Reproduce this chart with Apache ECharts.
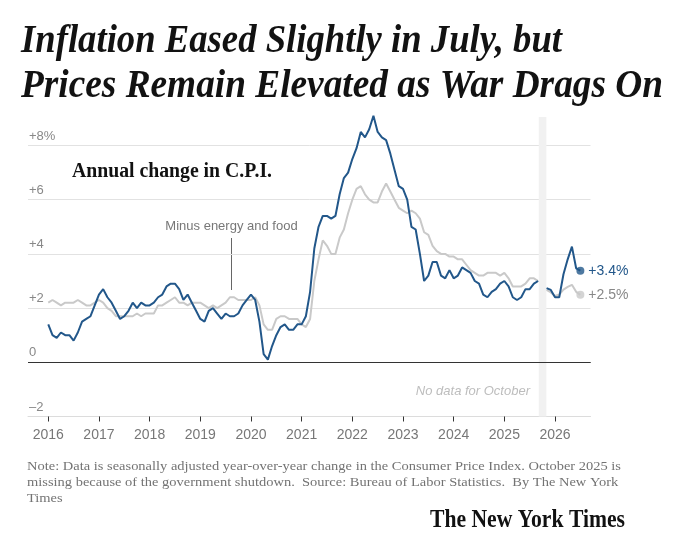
<!DOCTYPE html>
<html>
<head>
<meta charset="utf-8">
<script src="https://cdn.jsdelivr.net/npm/echarts@6/dist/echarts.min.js"></script>
<style>
html, body { margin: 0; padding: 0; background: #fff; }
#chart { width: 686px; height: 551px; }
</style>
</head>
<body>
<div id="chart"></div>
<script>
// ==========================
// data: year-over-year change in C.P.I., monthly from Jan 2016
// ==========================
var startYear = 2016;
var tickYears = [2016, 2017, 2018, 2019, 2020, 2021, 2022, 2023, 2024, 2025, 2026];
var yTicks = [-2, 0, 2, 4, 6, 8];
var yTickLabels = ['\u20132', '0', '+2', '+4', '+6', '+8%'];
var gapMonth = '2025-10';

var allItems = [
	1.4, 1.0, 0.9, 1.1, 1.0, 1.0, 0.8, 1.1, 1.5, 1.6, 1.7, 2.1,
	2.5, 2.7, 2.4, 2.2, 1.9, 1.6, 1.7, 1.9, 2.2, 2.0, 2.2, 2.1,
	2.1, 2.2, 2.4, 2.5, 2.8, 2.9, 2.9, 2.7, 2.3, 2.5, 2.2, 1.9,
	1.6, 1.5, 1.9, 2.0, 1.8, 1.6, 1.8, 1.7, 1.7, 1.8, 2.1, 2.3,
	2.5, 2.3, 1.5, 0.3, 0.1, 0.6, 1.0, 1.3, 1.4, 1.2, 1.2, 1.4,
	1.4, 1.7, 2.6, 4.2, 5.0, 5.4, 5.4, 5.3, 5.4, 6.2, 6.8, 7.0,
	7.5, 7.9, 8.5, 8.3, 8.6, 9.1, 8.5, 8.3, 8.2, 7.7, 7.1, 6.5,
	6.4, 6.0, 5.0, 4.9, 4.0, 3.0, 3.2, 3.7, 3.7, 3.2, 3.1, 3.4,
	3.1, 3.2, 3.5, 3.4, 3.3, 3.0, 2.9, 2.5, 2.4, 2.6, 2.7, 2.9,
	3.0, 2.8, 2.4, 2.3, 2.4, 2.7, 2.7, 2.9, 3.0, null, 2.74, 2.67,
	2.4, 2.4, 3.25, 3.8, 4.27, 3.47, 3.38
];

var coreItems = [
	2.2, 2.3, 2.2, 2.1, 2.2, 2.2, 2.2, 2.3, 2.2, 2.1, 2.1, 2.2,
	2.3, 2.2, 2.0, 1.9, 1.7, 1.7, 1.7, 1.7, 1.7, 1.8, 1.7, 1.8,
	1.8, 1.8, 2.1, 2.1, 2.2, 2.3, 2.4, 2.2, 2.2, 2.1, 2.2, 2.2,
	2.2, 2.1, 2.0, 2.1, 2.0, 2.1, 2.2, 2.4, 2.4, 2.3, 2.3, 2.3,
	2.3, 2.4, 2.1, 1.4, 1.2, 1.2, 1.6, 1.7, 1.7, 1.6, 1.6, 1.6,
	1.4, 1.3, 1.6, 3.0, 3.8, 4.5, 4.3, 4.0, 4.0, 4.6, 4.9, 5.5,
	6.0, 6.4, 6.5, 6.2, 6.0, 5.9, 5.9, 6.3, 6.6, 6.3, 6.0, 5.7,
	5.6, 5.5, 5.6, 5.5, 5.3, 4.8, 4.7, 4.3, 4.1, 4.0, 4.0, 3.9,
	3.9, 3.8, 3.8, 3.6, 3.4, 3.3, 3.2, 3.2, 3.3, 3.3, 3.3, 3.2,
	3.3, 3.1, 2.8, 2.8, 2.8, 2.9, 3.1, 3.1, 3.0, null, 2.67, 2.58,
	2.45, 2.5, 2.68, 2.78, 2.86, 2.6, 2.49
];

var monthLabels = allItems.map(function(v, i) {
	var m = i % 12 + 1;
	return (startYear + Math.floor(i / 12)) + '-' + (m < 10 ? '0' + m : m);
});
var gapIndex = monthLabels.indexOf(gapMonth);
var tickIndex = tickYears.map(function(y) { return (y - startYear) * 12; });

function toPairs(arr) {
	return arr.map(function(v, i) { return [i, v]; });
}
function lastPair(arr) {
	return [arr.length - 1, arr[arr.length - 1]];
}
function pct(v) {
	return '+' + v.toFixed(1) + '%';
}

// text fitting (titles and footer are condensed faces in the original)
var measureCtx = document.createElement('canvas').getContext('2d');
function fitScale(text, font, width) {
	measureCtx.font = font;
	return width / measureCtx.measureText(text).width;
}

var blue = '#22578a';
var grey = '#c9c9c9';
var sans = '"Liberation Sans", Arial, sans-serif';
var serif = '"Liberation Serif", serif';

var titleFont = 'italic bold 41px ' + serif;
var title1 = 'Inflation Eased Slightly in July, but';
var title2 = 'Prices Remain Elevated as War Drags On';
var titleScale1 = fitScale(title1, titleFont, 541);
var titleScale2 = fitScale(title2, titleFont, 642);

var subFont = 'bold 20px ' + serif;
var subText = 'Annual change in C.P.I.';
var subScale = fitScale(subText, subFont, 200);

var noteFont = '13px ' + serif;
var note1 = 'Note: Data is seasonally adjusted year-over-year change in the Consumer Price Index. October 2025 is';
var note2 = 'missing because of the government shutdown.  Source: Bureau of Labor Statistics.  By The New York';
var note3 = 'Times';
var noteScale = fitScale(note1, noteFont, 594);

var logoFont = 'bold 26px ' + serif;
var logoText = 'The New York Times';
var logoScale = fitScale(logoText, logoFont, 195);

var chart = echarts.init(document.getElementById('chart'));

var option = {
	animation : false,
	backgroundColor : '#ffffff',
	grid : {
		left : 28,
		right : 95.5,
		top : 91.3,
		bottom : 134.5
	},
	xAxis : {
		type : 'value',
		min : -4.8,
		max : 128.4,
		splitLine : { show : false },
		axisLine : {
			show : true,
			onZero : false,
			lineStyle : { color : '#dcdcdc', width : 1 }
		},
		axisTick : {
			show : true,
			customValues : tickIndex,
			length : 5,
			lineStyle : { color : '#333333', width : 1 }
		},
		axisLabel : {
			customValues : tickIndex,
			margin : 12,
			color : '#777777',
			fontSize : 14,
			fontFamily : sans,
			formatter : function(v) {
				return String(startYear + Math.round(v / 12));
			}
		}
	},
	yAxis : {
		type : 'value',
		min : -2,
		max : 10,
		interval : 2,
		axisLine : { show : false },
		axisTick : { show : false },
		axisLabel : {
			inside : true,
			margin : 1,
			verticalAlign : 'bottom',
			padding : [0, 0, 3, 0],
			color : '#888888',
			fontSize : 13,
			fontFamily : sans,
			formatter : function(v) {
				var k = yTicks.indexOf(v);
				return k < 0 ? '' : yTickLabels[k];
			}
		},
		splitLine : {
			show : true,
			showMaxLine : false,
			lineStyle : {
				color : ['#e2e2e2', '#333333', '#e2e2e2', '#e2e2e2', '#e2e2e2', '#e2e2e2', 'rgba(0,0,0,0)'],
				width : 1
			}
		}
	},
	series : [ {
		name : 'Minus energy and food',
		type : 'line',
		data : toPairs(coreItems),
		symbol : 'none',
		connectNulls : false,
		z : 2,
		lineStyle : { color : grey, width : 2 },
		emphasis : { disabled : true },
		endLabel : {
			show : true,
			distance : 8,
			color : '#888888',
			fontSize : 14,
			fontFamily : sans,
			formatter : function(p) { return pct(p.value[1]); }
		},
		markArea : {
			silent : true,
			itemStyle : { color : '#f1f1f1' },
			data : [ [ { xAxis : gapIndex - 0.85, yAxis : -2 }, { xAxis : gapIndex + 0.95, yAxis : 9.05 } ] ]
		}
	}, {
		name : 'All items',
		type : 'line',
		data : toPairs(allItems),
		symbol : 'none',
		connectNulls : false,
		z : 3,
		lineStyle : { color : blue, width : 2 },
		emphasis : { disabled : true },
		endLabel : {
			show : true,
			distance : 8,
			color : blue,
			fontSize : 14,
			fontFamily : sans,
			formatter : function(p) { return pct(p.value[1]); }
		},
		markLine : {
			silent : true,
			symbol : [ 'none', 'none' ],
			label : { show : false },
			lineStyle : { color : '#333333', width : 1.2, type : 'solid' },
			data : [ { yAxis : 0 } ]
		}
	}, {
		type : 'scatter',
		data : [ lastPair(coreItems) ],
		symbolSize : 8,
		z : 4,
		itemStyle : { color : grey },
		emphasis : { disabled : true }
	}, {
		type : 'scatter',
		data : [ lastPair(allItems) ],
		symbolSize : 8,
		z : 5,
		itemStyle : { color : blue },
		emphasis : { disabled : true }
	} ],
	graphic : [ {
		type : 'text', x : 21, y : 41.5, scaleX : titleScale1,
		style : { text : title1, font : titleFont, fill : '#121212', verticalAlign : 'middle' }
	}, {
		type : 'text', x : 21, y : 86, scaleX : titleScale2,
		style : { text : title2, font : titleFont, fill : '#121212', verticalAlign : 'middle' }
	}, {
		type : 'text', x : 72, y : 172, scaleX : subScale,
		style : { text : subText, font : subFont, fill : '#121212', verticalAlign : 'middle' }
	}, {
		type : 'text', x : 231.5, y : 226.5,
		style : { text : 'Minus energy and food', font : '13px ' + sans, fill : '#777777', align : 'center', verticalAlign : 'middle' }
	}, {
		type : 'line',
		shape : { x1 : 231.5, y1 : 238, x2 : 231.5, y2 : 290 },
		style : { stroke : '#666666', lineWidth : 1 }
	}, {
		type : 'text', x : 530, y : 391,
		style : { text : 'No data for October', font : 'italic 13px ' + sans, fill : '#bdbdbd', align : 'right', verticalAlign : 'middle' }
	}, {
		type : 'text', x : 27, y : 467, scaleX : noteScale,
		style : { text : note1, font : noteFont, fill : '#737373', verticalAlign : 'middle' }
	}, {
		type : 'text', x : 27, y : 483, scaleX : noteScale,
		style : { text : note2, font : noteFont, fill : '#737373', verticalAlign : 'middle' }
	}, {
		type : 'text', x : 27, y : 499, scaleX : noteScale,
		style : { text : note3, font : noteFont, fill : '#737373', verticalAlign : 'middle' }
	}, {
		type : 'text', x : 430, y : 520, scaleX : logoScale,
		style : { text : logoText, font : logoFont, fill : '#111111', verticalAlign : 'middle' }
	} ]
};
chart.setOption(option);
</script>
</body>
</html>
